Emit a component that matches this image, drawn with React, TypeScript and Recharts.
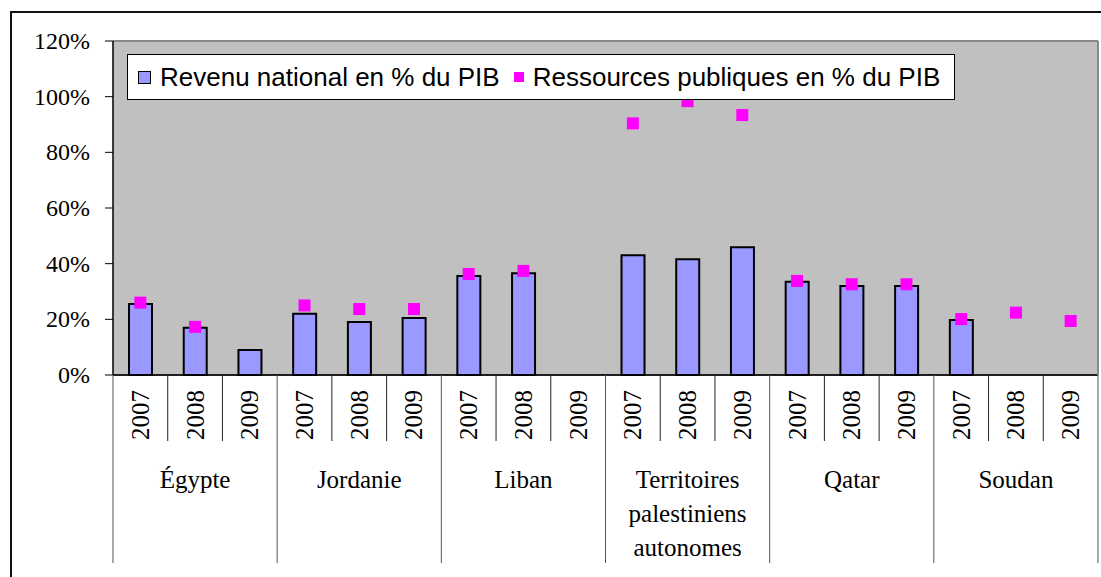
import React from "react";
import {
    ComposedChart,
    Bar,
    Line,
    XAxis,
    YAxis,
    CartesianGrid,
    Legend,
    ReferenceLine,
} from "recharts";

// Year under each bar, repeated for each country
const years = ["2007", "2008", "2009"];
// Country labels (multi-line where the original wraps)
const groupLines = [
    ["Égypte"],
    ["Jordanie"],
    ["Liban"],
    ["Territoires", "palestiniens", "autonomes"],
    ["Qatar"],
    ["Soudan"],
];
// Revenu national en % du PIB
const revenu = [25.5, 17, 9, 22, 19, 20.5, 35.6, 36.6, null, 43, 41.6, 45.9, 33.5, 32, 32, 19.8, null, null];
// Ressources publiques en % du PIB
const ressources = [26, 17.3, null, 25, 23.7, 23.7, 36.3, 37.4, null, 90.4, 98.4, 93.4, 33.8, 32.6, 32.6, 20.1, 22.4, 19.4];
const yTicks = [0, 20, 40, 60, 80, 100, 120];

const data = revenu.map((v, i) => ({
    year: years[i % 3],
    revenu: v,
    ressources: ressources[i],
}));

const W = 1101;
const H = 577;
const PLOT_LEFT = 113;
const PLOT_RIGHT = 1098;
const PLOT_TOP = 41;
const PLOT_BOTTOM = 375;
const BAND = (PLOT_RIGHT - PLOT_LEFT) / data.length;
const SERIF = "'Liberation Serif', 'Times New Roman', serif";
const SANS = "'Liberation Sans', Arial, sans-serif";
const serifStyle = { fontFamily: SERIF, fontSize: 25 };

const XTick = (props: any) => {
    const { x, index } = props;
    const right = x + BAND / 2;
    const endOfGroup = (index + 1) % 3 === 0;
    return (
        <g>
            <text
                transform={`translate(${x},${415}) rotate(-90)`}
                textAnchor="middle"
                dominantBaseline="central"
                style={serifStyle}
                fill="#000"
            >
                {years[index % 3]}
            </text>
            {index % 3 === 1 &&
                groupLines[Math.floor(index / 3)].map((t, k) => (
                    <text
                        key={t}
                        x={x}
                        y={479 + k * 34}
                        textAnchor="middle"
                        dominantBaseline="central"
                        style={serifStyle}
                        fill="#000"
                    >
                        {t}
                    </text>
                ))}
            <line
                x1={right}
                x2={right}
                y1={PLOT_BOTTOM}
                y2={endOfGroup ? 563 : 441}
                stroke={endOfGroup ? "#555" : "#222"}
                strokeWidth={1}
            />
            {index === 0 && (
                <line x1={x - BAND / 2} x2={x - BAND / 2} y1={PLOT_BOTTOM} y2={563} stroke="#555" strokeWidth={1} />
            )}
        </g>
    );
};

const YTick = (props: any) => {
    const { x, y, payload } = props;
    return (
        <text x={x} y={y} textAnchor="end" dominantBaseline="central" style={{ fontFamily: SERIF, fontSize: 24 }} fill="#000">
            {`${payload.value}%`}
        </text>
    );
};

const SquareDot = (props: any) => {
    const { cx, cy } = props;
    if (cx == null || cy == null || props.value == null) return null;
    return <rect x={cx - 6} y={cy - 6} width={12} height={12} fill="#ff00ff" />;
};

const LegendBox = () => (
    <div
        style={{
            width: "100%",
            height: "100%",
            boxSizing: "border-box",
            border: "1px solid #000",
            background: "#fff",
            display: "flex",
            alignItems: "center",
            fontFamily: SANS,
            fontSize: 26,
            color: "#000",
            paddingLeft: 10,
            whiteSpace: "nowrap",
        }}
    >
        <span style={{ width: 11, height: 11, background: "#9999ff", border: "1.5px solid #000", display: "inline-block", marginRight: 9 }} />
        <span>Revenu national en % du PIB</span>
        <span style={{ width: 10, height: 10, background: "#ff00ff", display: "inline-block", marginLeft: 14, marginRight: 9 }} />
        <span>Ressources publiques en % du PIB</span>
    </div>
);

export default function App() {
    return (
        <div style={{ position: "absolute", left: 0, top: 0, width: W, height: H, background: "#fff", overflow: "hidden" }}>
            {/* outer frame of the pasted chart */}
            <div
                style={{
                    position: "absolute",
                    left: 10,
                    top: 11,
                    width: W,
                    height: H,
                    borderTop: "2px solid #111",
                    borderLeft: "2px solid #111",
                }}
            />
            <div style={{ position: "absolute", left: 0, top: 0 }}>
                <ComposedChart
                    width={W}
                    height={H}
                    data={data}
                    margin={{ top: PLOT_TOP, right: 0, bottom: 0, left: 0 }}
                >
                    <CartesianGrid vertical={false} stroke="#111" fill="#c0c0c0" fillOpacity={1} />
                    <XAxis
                        dataKey="year"
                        interval={0}
                        height={H - PLOT_BOTTOM}
                        tickLine={false}
                        axisLine={{ stroke: "#000", strokeWidth: 1.5 }}
                        tick={<XTick />}
                        allowDuplicatedCategory
                    />
                    <YAxis
                        yAxisId="l"
                        width={PLOT_LEFT}
                        domain={[0, 120]}
                        ticks={yTicks}
                        tickSize={8}
                        tickMargin={15}
                        axisLine={{ stroke: "#000", strokeWidth: 1.5 }}
                        tickLine={{ stroke: "#000" }}
                        tick={<YTick />}
                    />
                    <YAxis
                        yAxisId="r"
                        orientation="right"
                        width={W - PLOT_RIGHT}
                        domain={[0, 120]}
                        tick={false}
                        tickLine={false}
                        axisLine={{ stroke: "#888", strokeWidth: 2 }}
                    />
                    <ReferenceLine yAxisId="l" y={120} stroke="#888" strokeWidth={2} />
                    <Bar
                        yAxisId="l"
                        dataKey="revenu"
                        name="Revenu national en % du PIB"
                        fill="#9999ff"
                        stroke="#000"
                        strokeWidth={2}
                        barSize={23}
                        isAnimationActive={false}
                    />
                    <Line
                        yAxisId="l"
                        dataKey="ressources"
                        name="Ressources publiques en % du PIB"
                        stroke="none"
                        dot={<SquareDot />}
                        activeDot={false}
                        isAnimationActive={false}
                    />
                    <Legend
                        layout="horizontal"
                        verticalAlign="middle"
                        align="center"
                        content={<LegendBox />}
                        wrapperStyle={{ position: "absolute", left: 127, top: 54, width: 828, height: 46 }}
                    />
                </ComposedChart>
            </div>
        </div>
    );
}
